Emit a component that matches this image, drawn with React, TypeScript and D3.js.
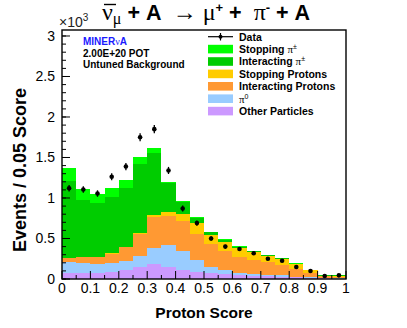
import React from "react";
import * as d3 from "d3";

// proton score bins (lower edge), width 0.05
const binLow = [0, 0.05, 0.1, 0.15, 0.2, 0.25, 0.3, 0.35, 0.4, 0.45, 0.5, 0.55, 0.6, 0.65, 0.7, 0.75, 0.8, 0.85, 0.9, 0.95];
const binWidth = 0.05;

// stacked MC components, x10^3 events (bottom -> top)
const otherParticles = [0.08, 0.08, 0.08, 0.085, 0.11, 0.15, 0.185, 0.15, 0.11, 0.09, 0.078, 0.06, 0.05, 0.04, 0.035, 0.03, 0.02, 0.015, 0.008, 0.005];
const pi0 = [0.125, 0.12, 0.105, 0.11, 0.11, 0.13, 0.195, 0.27, 0.23, 0.145, 0.066, 0.05, 0.028, 0.02, 0.015, 0.015, 0.01, 0.005, 0.004, 0.003];
const interactingProtons = [0.05, 0.07, 0.085, 0.115, 0.17, 0.28, 0.39, 0.36, 0.37, 0.325, 0.288, 0.235, 0.198, 0.175, 0.156, 0.128, 0.093, 0.058, 0.021, 0.012];
const stoppingProtons = [0.005, 0.005, 0.005, 0.005, 0.01, 0.01, 0.02, 0.05, 0.09, 0.13, 0.108, 0.112, 0.107, 0.095, 0.084, 0.072, 0.057, 0.029, 0.009, 0.015];
const interactingPi = [0.945, 0.695, 0.66, 0.695, 0.72, 0.85, 0.77, 0.35, 0.15, 0.06, 0.035, 0.023, 0.017, 0.01, 0.007, 0.01, 0.008, 0.005, 0.005, 0.013];
const stoppingPi = [0.16, 0.145, 0.12, 0.11, 0.1, 0.08, 0.06, 0.02, 0.01, 0.02, 0.009, 0.01, 0.01, 0.005, 0.003, 0.005, 0.005, 0.003, 0.003, 0.004];

// data points and errors, x10^3 events
const dataValues = [1.12, 1.105, 1.055, 1.262, 1.388, 1.75, 1.85, 1.34, 0.87, 0.69, 0.5, 0.4, 0.37, 0.317, 0.25, 0.226, 0.148, 0.099, 0.037, 0.045];
const dataErrors = [0.04, 0.04, 0.04, 0.042, 0.044, 0.048, 0.05, 0.044, 0.036, 0.032, 0.027, 0.024, 0.023, 0.021, 0.019, 0.018, 0.015, 0.012, 0.008, 0.008];

const componentKeys = ["other", "pi0", "intProton", "stopProton", "intPi", "stopPi"];
const componentColors = ["#cc99ff", "#99ccff", "#ff9933", "#ffcc00", "#00cc00", "#00ff00"];

const legendLabels = ["Stopping π±", "Interacting π±", "Stopping Protons", "Interacting Protons", "π0", "Other Particles"];
const legendColors = ["#00ff00", "#00cc00", "#ffcc00", "#ff9933", "#99ccff", "#cc99ff"];

const yTicks = [0, 0.5, 1, 1.5, 2, 2.5, 3];
const xTicks = [0, 0.1, 0.2, 0.3, 0.4, 0.5, 0.6, 0.7, 0.8, 0.9, 1];

const sans = "'Liberation Sans', Arial, Helvetica, sans-serif";
const serif = "'Liberation Serif', 'Times New Roman', serif";

function LegendLabel({ text, x, y }: { text: string; x: number; y: number }) {
  const i = text.indexOf("π");
  if (i < 0) {
    return <text x={x} y={y} fontSize={10.5} fontWeight="bold" fontFamily={sans}>{text}</text>;
  }
  return (
    <text x={x} y={y} fontSize={10.5} fontWeight="bold" fontFamily={sans}>
      {text.slice(0, i)}
      <tspan fontFamily={serif} fontWeight="normal" fontSize={11}>π</tspan>
      <tspan fontSize={7} dy={-4} fontWeight="normal">{text.slice(i + 1)}</tspan>
    </text>
  );
}

export default function App() {
  const x = d3.scaleLinear().domain([0, 1]).range([62, 346]);
  const y = d3.scaleLinear().domain([0, 3.074]).range([279, 30]);

  const rows = binLow.map((b, i) => ({
    bin: b,
    other: otherParticles[i],
    pi0: pi0[i],
    intProton: interactingProtons[i],
    stopProton: stoppingProtons[i],
    intPi: interactingPi[i],
    stopPi: stoppingPi[i],
  }));
  const series = d3.stack<any>().keys(componentKeys)(rows);

  const yMinor = d3.range(0, 3.05, 0.1);
  const xMinor = d3.range(0.05, 1, 0.1);

  return (
    <svg width={407} height={328} style={{ position: "absolute", left: 0, top: 0, background: "#fff" }}>
      <rect x={0} y={0} width={407} height={328} fill="#fff" />

      {/* stacked histogram */}
      <g shapeRendering="crispEdges">
        {series.map((s, si) => (
          <g key={s.key} fill={componentColors[si]}>
            {s.map((d, i) => (
              <rect
                key={i}
                x={x(binLow[i])}
                width={x(binLow[i] + binWidth) - x(binLow[i])}
                y={y(d[1])}
                height={y(d[0]) - y(d[1])}
              />
            ))}
          </g>
        ))}
      </g>

      {/* data */}
      <g>
        {dataValues.map((v, i) => {
          const cx = x(binLow[i] + binWidth / 2);
          return (
            <g key={i}>
              <line x1={cx} x2={cx} y1={y(v - dataErrors[i])} y2={y(v + dataErrors[i])} stroke="#000" strokeWidth={1.3} />
              <circle cx={cx} cy={y(v)} r={2.3} fill="#000" />
            </g>
          );
        })}
      </g>

      {/* frame */}
      <rect x={62} y={30} width={284} height={249} fill="none" stroke="#000" strokeWidth={1.4} />

      {/* axis ticks */}
      <g stroke="#000" strokeWidth={1}>
        {yMinor.map((t, i) => (
          <line key={"ym" + i} x1={62} x2={66} y1={y(t)} y2={y(t)} />
        ))}
        {yTicks.map((t) => (
          <line key={"y" + t} x1={62} x2={70} y1={y(t)} y2={y(t)} />
        ))}
        {xMinor.map((t, i) => (
          <line key={"xm" + i} x1={x(t)} x2={x(t)} y1={279} y2={275} />
        ))}
        {xTicks.map((t) => (
          <line key={"x" + t} x1={x(t)} x2={x(t)} y1={279} y2={271} />
        ))}
      </g>

      <g fontFamily={sans} fontSize={14} fill="#000">
        {yTicks.map((t) => (
          <text key={t} x={55} y={y(t) + 5} textAnchor="end">{d3.format("~g")(t)}</text>
        ))}
        {xTicks.map((t) => (
          <text key={t} x={x(t)} y={293} textAnchor="middle">{d3.format("~g")(t)}</text>
        ))}
      </g>

      {/* exponent */}
      <text x={59} y={27} fontFamily={sans} fontSize={14} fill="#222">
        ×10<tspan fontSize={10} dy={-6}>3</tspan>
      </text>

      {/* axis titles */}
      <text x={204} y={318} textAnchor="middle" fontFamily={sans} fontWeight="bold" fontSize={15.5}>Proton Score</text>
      <text transform="translate(26,170) rotate(-90)" textAnchor="middle" fontFamily={sans} fontWeight="bold" fontSize={18}>Events / 0.05 Score</text>

      {/* title */}
      <line x1={104} x2={116} y1={4.5} y2={4.5} stroke="#000" strokeWidth={1.4} />
      <text x={102} y={20} fontSize={21.5} fill="#000" style={{ whiteSpace: "pre" }}>
        <tspan fontFamily={serif} fontSize={24}>ν</tspan>
        <tspan fontFamily={serif} fontSize={16} dy={4}>μ</tspan>
        <tspan fontFamily={sans} fontWeight="bold" dy={-4}> + A </tspan>
        <tspan fontFamily={serif} fontSize={24}> → </tspan>
        <tspan fontFamily={serif} fontSize={24}>μ</tspan>
        <tspan fontFamily={sans} fontWeight="bold" fontSize={13} dy={-8}>+</tspan>
        <tspan fontFamily={sans} fontWeight="bold" dy={8}> + </tspan>
        <tspan fontFamily={serif} fontSize={24}> π</tspan>
        <tspan fontFamily={sans} fontWeight="bold" fontSize={13} dy={-8}>-</tspan>
        <tspan fontFamily={sans} fontWeight="bold" dy={8}> + A</tspan>
      </text>

      {/* labels */}
      <text x={83} y={45} fontFamily={sans} fontWeight="bold" fontSize={10} fill="#1a1aff">
        MINER<tspan fontFamily={serif} fontWeight="normal">ν</tspan>A
      </text>
      <text x={83} y={57} fontFamily={sans} fontWeight="bold" fontSize={10}>2.00E+20 POT</text>
      <text x={83} y={68} fontFamily={sans} fontWeight="bold" fontSize={10}>Untuned Background</text>

      {/* legend */}
      <g>
        <line x1={208} x2={233} y1={36.7} y2={36.7} stroke="#000" strokeWidth={1.2} />
        <line x1={220.5} x2={220.5} y1={33} y2={40.5} stroke="#000" strokeWidth={1.2} />
        <circle cx={220.5} cy={36.7} r={2} fill="#000" />
        <text x={239} y={40.5} fontFamily={sans} fontWeight="bold" fontSize={10.5}>Data</text>
        {legendLabels.map((l, i) => {
          const cy = 49.1 + i * 12.4;
          return (
            <g key={l}>
              <rect x={208} y={cy - 4.3} width={25} height={8.6} fill={legendColors[i]} />
              <LegendLabel text={l} x={239} y={cy + 3.8} />
            </g>
          );
        })}
      </g>
    </svg>
  );
}
